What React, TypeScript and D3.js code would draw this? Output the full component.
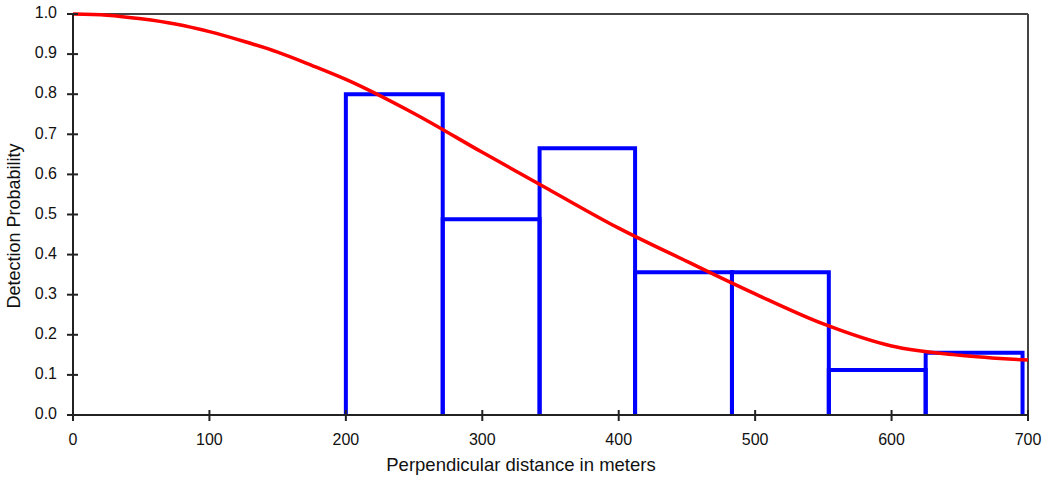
import React from "react";
import * as d3 from "d3";

const binEdges = [200, 271, 342, 412, 483, 554, 625, 696];
const binHeights = [0.8, 0.488, 0.665, 0.356, 0.356, 0.112, 0.155];

const curveX = [0, 25, 50, 75, 100, 125, 150, 175, 200, 250, 300, 350, 400, 450, 500, 550, 600, 650, 700];
const curveY = [1.0, 0.997, 0.988, 0.975, 0.956, 0.932, 0.905, 0.872, 0.837, 0.752, 0.655, 0.56, 0.466, 0.383, 0.302, 0.227, 0.172, 0.149, 0.137];

const xTicks = [0, 100, 200, 300, 400, 500, 600, 700];
const yTicks = [0, 0.1, 0.2, 0.3, 0.4, 0.5, 0.6, 0.7, 0.8, 0.9, 1.0];

const W = 1045;
const H = 487;
const L = 73, R = 1028, T = 14, B = 415;

export default function App() {
  const x = d3.scaleLinear().domain([0, 700]).range([L, R]);
  const y = d3.scaleLinear().domain([0, 1]).range([B, T]);
  const line = d3
    .line<number>()
    .x((_, i) => x(curveX[i]))
    .y((d) => y(d))
    .curve(d3.curveMonotoneX);
  const font = "'Liberation Sans', Arial, sans-serif";
  return (
    <svg
      width={W}
      height={H}
      style={{ position: "absolute", left: 0, top: 0, background: "#fff" }}
    >
      {/* frame */}
      <line x1={L} x2={R} y1={T} y2={T} stroke="#444" strokeWidth={2} />
      <line x1={R} x2={R} y1={T} y2={B} stroke="#444" strokeWidth={2} />
      {/* bars (open at the bottom) */}
      {binHeights.map((h, i) => {
        const p = d3.path();
        p.moveTo(x(binEdges[i]), y(0));
        p.lineTo(x(binEdges[i]), y(h));
        p.lineTo(x(binEdges[i + 1]), y(h));
        p.lineTo(x(binEdges[i + 1]), y(0));
        return (
          <path
            key={i}
            d={p.toString()}
            fill="none"
            stroke="#0000ff"
            strokeWidth={4}
            strokeLinejoin="miter"
          />
        );
      })}
      {/* curve */}
      <path d={line(curveY) || ""} fill="none" stroke="#ff0000" strokeWidth={3.5} />
      {/* axes */}
      <line x1={L} x2={L} y1={T} y2={B} stroke="#222" strokeWidth={2} />
      <line x1={L} x2={R} y1={B} y2={B} stroke="#222" strokeWidth={2} />
      {yTicks.map((t) => (
        <g key={"y" + t}>
          <line x1={L - 6} x2={L + 5} y1={y(t)} y2={y(t)} stroke="#222" strokeWidth={2} />
          <text
            x={57}
            y={y(t)}
            textAnchor="end"
            dominantBaseline="middle"
            fontFamily={font}
            fontSize={16}
            fill="#111"
          >
            {t.toFixed(1)}
          </text>
        </g>
      ))}
      {xTicks.map((t) => (
        <g key={"x" + t}>
          <line x1={x(t)} x2={x(t)} y1={B - 5} y2={B + 6} stroke="#222" strokeWidth={2} />
          <text
            x={x(t)}
            y={445}
            textAnchor="middle"
            fontFamily={font}
            fontSize={16}
            fill="#111"
          >
            {t}
          </text>
        </g>
      ))}
      <text x={521} y={471} textAnchor="middle" fontFamily={font} fontSize={18.5} fill="#111">
        Perpendicular distance in meters
      </text>
      <text
        transform={`translate(20,226) rotate(-90)`}
        textAnchor="middle"
        fontFamily={font}
        fontSize={18}
        fill="#111"
      >
        Detection Probability
      </text>
    </svg>
  );
}
